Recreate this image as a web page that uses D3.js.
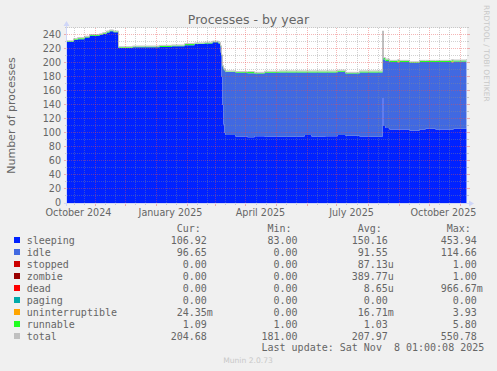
<!DOCTYPE html>
<html>
<head>
<meta charset="utf-8">
<script src="https://cdn.jsdelivr.net/npm/d3@7/dist/d3.min.js"></script>
<style>
body { margin: 0; background: #f0f0f0; }
svg { display: block; }
</style>
</head>
<body>
<div id="chart"></div>
<script>
// step values, one entry per change
var dates = ["2024-10-04", "2024-10-11", "2024-10-15", "2024-10-22", "2024-10-27", "2024-11-06",
    "2024-11-09", "2024-11-13", "2024-11-16", "2024-11-20", "2024-11-25", "2024-12-09",
    "2025-01-05", "2025-01-17", "2025-01-30", "2025-02-09", "2025-02-19", "2025-02-27",
    "2025-03-05", "2025-03-07", "2025-03-08", "2025-03-09", "2025-03-10", "2025-03-11",
    "2025-03-12", "2025-03-22", "2025-04-03", "2025-04-10", "2025-04-20", "2025-05-05",
    "2025-05-20", "2025-05-30", "2025-06-06", "2025-06-20", "2025-07-02", "2025-07-10",
    "2025-07-24", "2025-08-05", "2025-08-16", "2025-08-17", "2025-08-19", "2025-08-23",
    "2025-08-31", "2025-09-02", "2025-09-12", "2025-09-22", "2025-09-28", "2025-10-08",
    "2025-10-24", "2025-10-26", "2025-11-08"];
var sleeping = [230, 233, 234, 236.5, 239, 240, 241.5, 243.5, 245.5, 244, 221.5, 222.5,
    223, 224, 225.5, 227, 228, 229.5, 228, 215, 180, 140, 112, 100,
    97, 95, 94, 95.5, 95, 94.5, 95, 97, 95, 95.5, 97, 96,
    95, 94.5, 150, 110, 107, 105, 105, 105, 103.5, 105, 106, 105,
    105, 106, 106.92];
var idle = [0, 0, 0, 0, 0, 0, 0, 0, 0, 0, 0, 0,
    0, 0, 0, 0, 0, 0, 0, 8, 30, 55, 79, 89,
    90, 91, 91.5, 89.5, 91, 92, 91.5, 89.5, 91.5, 91, 90.5, 89,
    91.5, 92, 93, 95, 96, 96.5, 96, 96.5, 96.5, 96.5, 95.5, 96.5,
    96, 96, 96.65];
var uninterruptible = [0, 0, 0, 0, 0, 0, 0, 0, 0, 0, 0, 0,
    0, 0, 0, 0, 0, 0, 0, 0, 0, 0, 0, 0,
    0, 0, 0, 0, 0, 0, 0, 0, 0, 0, 0, 0,
    0, 0, 0, 0, 0, 0, 1.5, 0, 0, 0, 0, 0,
    1.5, 0, 0];
var runnable = [1, 1, 1.5, 1, 1, 1, 1, 1.5, 1, 1, 1, 1,
    1.5, 1, 1.5, 1, 1, 1, 1, 1, 1, 1, 1, 1,
    1, 1, 1.5, 1, 1.5, 1.5, 1.5, 1.5, 1.5, 1.5, 1.5, 1,
    1.5, 1.5, 2, 2, 2, 1.5, 1.5, 1.5, 1, 1.5, 1.5, 1.5,
    1.5, 1.5, 1.09];
var total = [231, 234, 235.5, 237.5, 240, 241, 242.5, 245, 246.5, 245, 222.5, 223.5,
    224.5, 225, 227, 228, 229, 230.5, 229, 224, 211, 196, 192, 190,
    188, 187, 187, 186, 187.5, 188, 188, 188, 188, 188, 189, 186,
    188, 188, 245, 207, 205, 203, 204, 203, 201, 203, 203, 203,
    204, 203.5, 204.68];

var yTicks = [0, 20, 40, 60, 80, 100, 120, 140, 160, 180, 200, 220, 240];
var xTickMonths = ["2024-10-01", "2025-01-01", "2025-04-01", "2025-07-01", "2025-10-01"];
var xTickLabels = ["October 2024", "January 2025", "April 2025", "July 2025", "October 2025"];

var legendNames = ["sleeping", "idle", "stopped", "zombie", "dead", "paging", "uninterruptible", "runnable", "total"];
var legendColors = ["#0022ff", "#4169e1", "#cc0000", "#990000", "#ff0000", "#00aaaa", "#ffa500", "#22ff22", "#c0c0c0"];
var legendCur = ["106.92", "96.65", "0.00", "0.00", "0.00", "0.00", "24.35m", "1.09", "204.68"];
var legendMin = ["83.00", "0.00", "0.00", "0.00", "0.00", "0.00", "0.00", "1.00", "181.00"];
var legendAvg = ["150.16", "91.55", "87.13u", "389.77u", "8.65u", "0.00", "16.71m", "1.03", "207.97"];
var legendMax = ["453.94", "114.66", "1.00", "1.00", "966.67m", "0.00", "3.93", "5.80", "550.78"];

var width = 497, height = 371;
var plotLeft = 67, plotRight = 467, plotTop = 28, plotBottom = 203;
var fontColor = "#666666";
var sans = "DejaVu Sans";
var mono = "DejaVu Sans Mono";

var parse = d3.utcParse("%Y-%m-%d");

var x = d3.scaleUtc()
    .domain([new Date(Date.UTC(2024, 9, 4, 12)), new Date(Date.UTC(2025, 10, 8, 12))])
    .range([plotLeft, plotRight]);
var y = d3.scaleLinear()
    .domain([0, 250])
    .range([plotBottom, plotTop]);

var table = dates.map(function (d, i) {
    return {
        date: parse(d),
        sleeping: sleeping[i],
        idle: idle[i],
        uninterruptible: uninterruptible[i],
        runnable: runnable[i],
        total: total[i]
    };
});

var keys = ["sleeping", "idle", "uninterruptible", "runnable"];
var colorOf = {};
legendNames.forEach(function (n, i) { colorOf[n] = legendColors[i]; });

var svg = d3.select("#chart")
    .append("svg")
    .attr("width", width)
    .attr("height", height);

svg.append("rect")
    .attr("width", width)
    .attr("height", height)
    .attr("fill", "#f0f0f0");

svg.append("rect")
    .attr("x", plotLeft)
    .attr("y", plotTop)
    .attr("width", plotRight - plotLeft)
    .attr("height", plotBottom - plotTop)
    .attr("fill", "#ffffff");

// stacked areas
var layers = d3.stack().keys(keys)(table);
var area = d3.area()
    .curve(d3.curveStepAfter)
    .x(function (d) { return x(d.data.date); })
    .y0(function (d) { return y(d[0]); })
    .y1(function (d) { return y(d[1]); });

svg.append("g")
    .selectAll("path")
    .data(layers)
    .enter()
    .append("path")
    .attr("d", area)
    .attr("fill", function (d) { return colorOf[d.key]; });

var line = d3.line()
    .curve(d3.curveStepAfter)
    .x(function (d) { return x(d.date); })
    .y(function (d) { return y(d.total); });

svg.append("path")
    .datum(table)
    .attr("d", line)
    .attr("transform", "translate(0,-0.5)")
    .attr("fill", "none")
    .attr("stroke", "#c0c0c0")
    .attr("stroke-width", 1);

// grid on top of the graph, rrdtool style
var minorColor = "rgba(140,140,140,0.4)";
var majorColor = "rgba(230,80,80,0.42)";
var grid = svg.append("g").attr("shape-rendering", "crispEdges");

var yMinor = d3.range(10, 251, 20);
var yMajor = yTicks.filter(function (v) { return v > 0; });

function hline(v, color, tick) {
    var py = Math.round(y(v)) - 0.5;
    grid.append("line")
        .attr("x1", plotLeft).attr("x2", plotRight)
        .attr("y1", py).attr("y2", py)
        .attr("stroke", color)
        .attr("stroke-dasharray", "1,1");
    grid.append("line")
        .attr("x1", plotLeft - tick).attr("x2", plotLeft)
        .attr("y1", py).attr("y2", py)
        .attr("stroke", color);
    grid.append("line")
        .attr("x1", plotRight).attr("x2", plotRight + tick)
        .attr("y1", py).attr("y2", py)
        .attr("stroke", color);
}
function vline(t, color, tick) {
    var px = Math.round(x(t)) + 0.5;
    grid.append("line")
        .attr("x1", px).attr("x2", px)
        .attr("y1", plotTop).attr("y2", plotBottom)
        .attr("stroke", color)
        .attr("stroke-dasharray", "1,1");
    grid.append("line")
        .attr("x1", px).attr("x2", px)
        .attr("y1", plotBottom).attr("y2", plotBottom + tick)
        .attr("stroke", color);
}

yMinor.forEach(function (v) { hline(v, minorColor, 2); });
yMajor.forEach(function (v) { hline(v, majorColor, 3); });

var days = d3.utcDay.range(x.domain()[0], x.domain()[1]);
days.filter(function (d) { return d.getUTCDate() === 11 || d.getUTCDate() === 21; })
    .forEach(function (d) { vline(d, minorColor, 2); });
d3.utcMonth.range(x.domain()[0], x.domain()[1])
    .forEach(function (d) { vline(d, majorColor, 3); });

// axes with arrows
var axisColor = "#cfd6f8";
svg.append("line")
    .attr("x1", plotLeft - 3).attr("x2", plotRight + 4)
    .attr("y1", plotBottom + 0.5).attr("y2", plotBottom + 0.5)
    .attr("stroke", axisColor);
svg.append("line")
    .attr("x1", plotLeft - 0.5).attr("x2", plotLeft - 0.5)
    .attr("y1", plotBottom + 3).attr("y2", plotTop - 3)
    .attr("stroke", axisColor);
svg.append("path")
    .attr("d", "M" + (plotRight + 2) + "," + (plotBottom - 2.5) + "L" + (plotRight + 7) + "," + (plotBottom + 0.5) + "L" + (plotRight + 2) + "," + (plotBottom + 3.5) + "Z")
    .attr("fill", axisColor);
svg.append("path")
    .attr("d", "M" + (plotLeft - 3.5) + "," + (plotTop - 2) + "L" + (plotLeft - 0.5) + "," + (plotTop - 7) + "L" + (plotLeft + 2.5) + "," + (plotTop - 2) + "Z")
    .attr("fill", axisColor);

// tick labels
svg.append("g")
    .selectAll("text")
    .data(yTicks)
    .enter()
    .append("text")
    .attr("x", 61)
    .attr("y", function (d) { return y(d) + 3.3; })
    .attr("text-anchor", "end")
    .attr("font-family", sans)
    .attr("font-size", "9.6px")
    .attr("fill", fontColor)
    .text(function (d) { return d; });

svg.append("g")
    .selectAll("text")
    .data(xTickMonths)
    .enter()
    .append("text")
    .attr("x", function (d) { return x(d3.utcDay.offset(parse(d), 15)); })
    .attr("y", 216)
    .attr("text-anchor", "middle")
    .attr("font-family", sans)
    .attr("font-size", "9.6px")
    .attr("fill", fontColor)
    .text(function (d, i) { return xTickLabels[i]; });

// titles
svg.append("text")
    .attr("x", 248.5)
    .attr("y", 23.5)
    .attr("text-anchor", "middle")
    .attr("font-family", sans)
    .attr("font-size", "12.5px")
    .attr("fill", fontColor)
    .text("Processes - by year");

svg.append("text")
    .attr("transform", "translate(15,115.5) rotate(-90)")
    .attr("text-anchor", "middle")
    .attr("font-family", sans)
    .attr("font-size", "11px")
    .attr("fill", fontColor)
    .text("Number of processes");

svg.append("text")
    .attr("transform", "translate(484,5) rotate(90)")
    .attr("font-family", sans)
    .attr("font-size", "7.5px")
    .attr("fill", "#c8c8c8")
    .text("RRDTOOL / TOBI OETIKER");

// legend
var charW = 6.02;
var cols = [170.7, 261.5, 351.7, 440.7];
var heads = ["Cur:", "Min:", "Avg:", "Max:"];
var legend = svg.append("g")
    .attr("font-family", mono)
    .attr("font-size", "10px")
    .attr("fill", fontColor);

heads.forEach(function (h, j) {
    legend.append("text")
        .attr("x", cols[j] + charW)
        .attr("y", 231.5)
        .text(h);
});

function numPart(s) {
    return s.replace(/[a-z]$/, "");
}

legendNames.forEach(function (name, i) {
    var cy = 240 + i * 12;
    legend.append("rect")
        .attr("x", 14)
        .attr("y", cy - 3)
        .attr("width", 6)
        .attr("height", 6)
        .attr("fill", legendColors[i]);
    legend.append("text")
        .attr("x", 26.7)
        .attr("y", cy + 3.5)
        .text(name);
    [legendCur[i], legendMin[i], legendAvg[i], legendMax[i]].forEach(function (v, j) {
        legend.append("text")
            .attr("x", cols[j] + (6 - numPart(v).length) * charW)
            .attr("y", cy + 3.5)
            .text(v);
    });
});

legend.append("text")
    .attr("x", cols[1])
    .attr("y", 351)
    .style("white-space", "pre")
    .text("Last update: Sat Nov  8 01:00:08 2025");

svg.append("text")
    .attr("x", 248)
    .attr("y", 362.5)
    .attr("text-anchor", "middle")
    .attr("font-family", sans)
    .attr("font-size", "7.6px")
    .attr("fill", "#c8c8c8")
    .text("Munin 2.0.73");
</script>
</body>
</html>
